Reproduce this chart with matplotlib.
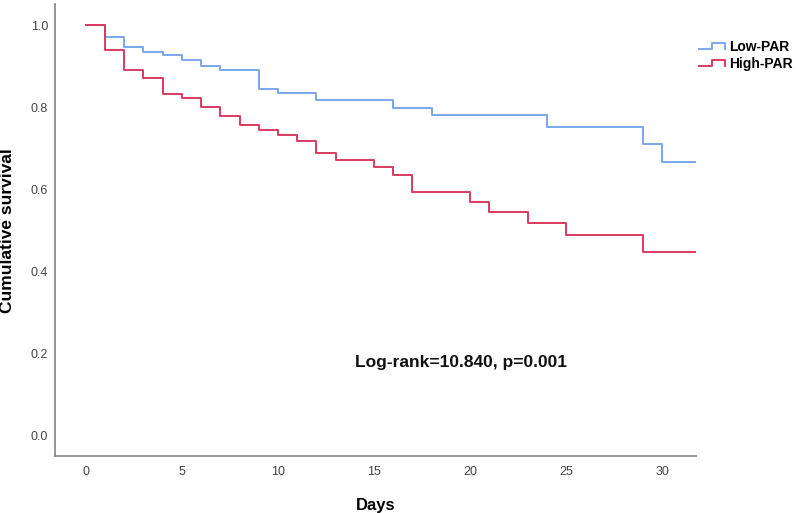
import matplotlib
matplotlib.use('Agg')
import matplotlib.pyplot as plt
from matplotlib.legend_handler import HandlerBase
from matplotlib.lines import Line2D

plt.rcParams['font.family'] = ['Liberation Sans', 'DejaVu Sans']

# Kaplan-Meier step data
low_days = [0, 1, 2, 3, 4, 5, 6, 7, 9, 10, 12, 16, 18, 24, 29, 30, 31.7]
low_surv = [1.0, 0.972, 0.946, 0.935, 0.928, 0.915, 0.900, 0.890, 0.845, 0.835,
            0.817, 0.799, 0.780, 0.752, 0.711, 0.667, 0.667]

high_days = [0, 1, 2, 3, 4, 5, 6, 7, 8, 9, 10, 11, 12, 13, 15, 16, 17, 20, 21,
             23, 25, 29, 31.7]
high_surv = [1.0, 0.940, 0.890, 0.872, 0.833, 0.821, 0.801, 0.779, 0.756, 0.744,
             0.732, 0.717, 0.687, 0.671, 0.653, 0.634, 0.594, 0.569, 0.545,
             0.517, 0.488, 0.447, 0.447]

x_ticks = [0, 5, 10, 15, 20, 25, 30]
y_ticks = [0.0, 0.2, 0.4, 0.6, 0.8, 1.0]
group_names = ['Low-PAR', 'High-PAR']
stat_text = 'Log-rank=10.840, p=0.001'

blue = '#7aa6ea'
red = '#dc3a60'


# little step glyph for the legend, like SPSS draws it
class StepHandler(HandlerBase):
    def create_artists(self, legend, orig_handle, xdescent, ydescent,
                       width, height, fontsize, trans):
        x0 = -xdescent
        y0 = -ydescent
        xs = [x0, x0 + 0.5 * width, x0 + 0.5 * width, x0 + width, x0 + width]
        ys = [y0 + 0.2 * height, y0 + 0.2 * height, y0 + 0.85 * height,
              y0 + 0.85 * height, y0 + 0.2 * height]
        ln = Line2D(xs, ys, color=orig_handle.get_color(),
                    lw=orig_handle.get_linewidth(), transform=trans)
        return [ln]


fig = plt.figure(figsize=(7.97, 5.13), dpi=100)
ax = fig.add_axes([55 / 797, 1 - 456 / 513, (696 - 55) / 797, (456 - 4.5) / 513])

l1, = ax.step(low_days, low_surv, where='post', color=blue, lw=1.4, label=group_names[0])
l2, = ax.step(high_days, high_surv, where='post', color=red, lw=1.4, label=group_names[1])

ax.set_xlim(-1.6, 31.75)
ax.set_ylim(-0.05, 1.05)
ax.set_xticks(x_ticks)
ax.set_yticks(y_ticks)
ax.set_yticklabels(['%.1f' % v for v in y_ticks])

for s in ['top', 'right']:
    ax.spines[s].set_visible(False)
for s in ['left', 'bottom']:
    ax.spines[s].set_color('#8c8c8c')
    ax.spines[s].set_linewidth(1.3)

ax.tick_params(axis='both', length=0, labelsize=9, labelcolor='#444444')
ax.tick_params(axis='x', pad=7.5)
ax.tick_params(axis='y', pad=5)

ax.set_xlabel('Days', fontsize=12, fontweight='bold', labelpad=14)
ax.set_ylabel('Cumulative survival', fontsize=12.5, fontweight='bold', labelpad=11)

ax.text(19.5, 0.178, stat_text, fontsize=12.5, fontweight='bold',
        ha='center', va='center', color='#111111')

leg = fig.legend(handles=[l1, l2], loc='upper left',
                 bbox_to_anchor=(692 / 797, 1 - 33 / 513), frameon=False,
                 handler_map={Line2D: StepHandler()}, handlelength=1.9,
                 handletextpad=0.3, labelspacing=0.25, borderpad=0,
                 prop={'weight': 'bold', 'size': 10})

fig.savefig('out.png', dpi=100)
